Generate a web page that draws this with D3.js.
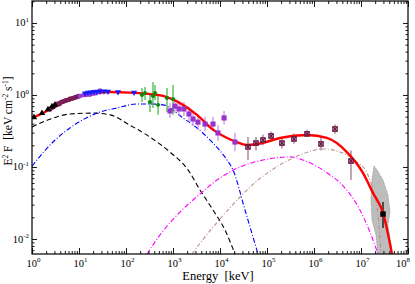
<!DOCTYPE html>
<html lang="en">
<head>
<meta charset="UTF-8">
<title>SED</title>
<script src="https://d3js.org/d3.v7.min.js" charset="utf-8"></script>
<style>
  body { margin: 0; background: white; }
  svg { display: block; background: white; font-family: 'Liberation Serif', 'DejaVu Serif', serif; }
</style>
</head>
<body>
<div id="chart"></div>
<script>
// ---- data (energy in keV, E^2F in keV cm^-2 s^-1) ----
var totalE = [1, 1.89, 3.1, 6.4, 17, 46, 122, 324, 613, 1410, 3240, 7100, 14100, 23000, 37500, 55600, 82000, 189000, 710000, 1.89e6, 5.0e6, 1.1e7, 1.8e7, 2.94e7, 4.6e7];
var totalV = [0.48, 0.58, 0.70, 0.88, 1.03, 1.10, 1.08, 1.03, 0.97, 0.77, 0.53, 0.33, 0.253, 0.222, 0.202, 0.205, 0.216, 0.253, 0.278, 0.253, 0.161, 0.083, 0.0435, 0.023, 0.006];

var syncE = [1, 2.4, 6.4, 19.9, 46, 122, 324, 864, 2090, 3750, 7100, 12800, 20800];
var syncV = [0.36, 0.46, 0.545, 0.56, 0.53, 0.38, 0.26, 0.161, 0.091, 0.048, 0.0253, 0.0133, 0.0062];

var sync2E = [1, 3.1, 6.4, 24, 64, 171, 324, 613, 1630, 3240, 7100, 14100, 18900, 34000, 64400];
var sync2V = [0.103, 0.237, 0.348, 0.56, 0.66, 0.75, 0.75, 0.73, 0.48, 0.348, 0.215, 0.125, 0.091, 0.0253, 0.0062];

var icE = [280, 529, 1410, 3750, 8630, 26700, 82000, 308000, 583000, 1.89e6, 4.57e6, 9.5e6, 1.55e7, 2.3e7];
var icV = [0.0062, 0.0114, 0.0237, 0.0422, 0.066, 0.1, 0.125, 0.138, 0.125, 0.083, 0.051, 0.0253, 0.0125, 0.0062];

var ic2E = [2540, 4800, 10000, 26700, 61300, 189000, 504000, 1.55e6, 4.14e6, 8.2e6, 1.34e7, 1.8e7, 2.3e7, 2.67e7];
var ic2V = [0.0062, 0.0107, 0.019, 0.0383, 0.064, 0.107, 0.147, 0.178, 0.156, 0.117, 0.083, 0.048, 0.0216, 0.0062];

// butterfly (outline, clockwise)
var bandE = [1.89e7, 2.19e7, 2.94e7, 3.75e7, 4.14e7, 3.75e7, 4.35e7, 4.6e7, 2.3e7, 2.08e7, 1.71e7, 1.63e7, 1.71e7];
var bandV = [0.103, 0.091, 0.066, 0.041, 0.0237, 0.0156, 0.0083, 0.006, 0.006, 0.0114, 0.0184, 0.0348, 0.066];

var triE = [1.1, 1.63, 2.19, 2.66, 3.08];
var triV = [0.49, 0.56, 0.63, 0.69, 0.73];

var maroonE = [2.41, 2.60, 2.80, 2.94, 3.16, 3.40, 3.57, 3.85, 4.14, 4.35, 4.68, 5.04, 5.29, 5.69, 6.13, 6.44, 6.92, 7.45, 8.02, 8.63, 9.29, 10.0];
var maroonV = [0.63, 0.66, 0.68, 0.69, 0.72, 0.73, 0.76, 0.75, 0.79, 0.80, 0.81, 0.83, 0.84, 0.85, 0.86, 0.88, 0.89, 0.90, 0.92, 0.93, 0.95, 0.96];

var violetE = [10.5, 12.2, 14.1, 15.5, 17.1, 18.9, 20.9, 23.0, 25.4, 28.0];
var violetV = [0.97, 0.99, 1.00, 1.02, 1.01, 1.04, 1.05, 1.06, 1.10, 1.15];

var blueE = [13.4, 15.5, 18.0, 20.9, 24.1, 28.0, 34.0, 41.4, 67.6, 148];
var blueV = [1.06, 1.08, 1.09, 1.11, 1.12, 1.12, 1.13, 1.12, 1.10, 1.08];

var greenE = [219, 254, 324, 375, 414, 480, 745, 1000];
var greenV = [1.0, 1.07, 0.80, 0.97, 1.07, 0.73, 0.91, 0.88];
var greenLo = [0.80, 0.85, 0.58, 0.66, 0.85, 0.53, 0.58, 0.53];
var greenHi = [1.25, 1.29, 1.0, 1.52, 1.38, 0.97, 1.25, 1.38];

var sqE = [864, 1100, 1340, 1710, 2190, 2670, 3400, 4800, 7100, 9060, 12200, 20800];
var sqV = [0.60, 0.70, 0.64, 0.64, 0.545, 0.464, 0.42, 0.395, 0.395, 0.297, 0.48, 0.222];
var sqLo = [0.48, 0.56, 0.51, 0.51, 0.44, 0.37, 0.33, 0.31, 0.31, 0.23, 0.39, 0.165];
var sqHi = [0.77, 0.87, 0.80, 0.80, 0.68, 0.58, 0.53, 0.50, 0.50, 0.38, 0.60, 0.30];

var starE = [39400, 58300, 82200, 122000, 208000, 375000, 710000, 1.41e6, 2.8e6, 6.12e6];
var starV = [0.19, 0.215, 0.237, 0.27, 0.215, 0.245, 0.288, 0.209, 0.337, 0.121];
var starLo = [0.125, 0.17, 0.20, 0.24, 0.18, 0.21, 0.26, 0.17, 0.29, 0.066];
var starHi = [0.26, 0.26, 0.28, 0.31, 0.26, 0.29, 0.33, 0.26, 0.39, 0.17];

var latE = [2.94e7], latV = [0.0222], latLo = [0.0142], latHi = [0.0327];

var xMajor = [1, 1e1, 1e2, 1e3, 1e4, 1e5, 1e6, 1e7, 1e8];
var yMajor = [1e-2, 1e-1, 1e0, 1e1];

// ---- layout ----
var svgWidth = 415, svgHeight = 284;
var padLeft = 32, padRight = 408, padTop = 1, padBottom = 254;

var svg = d3.select('#chart').append('svg')
    .attr('width', svgWidth).attr('height', svgHeight);

var x = d3.scaleLog().domain([1, 1e8]).range([padLeft, padRight]);
var y = d3.scaleLog().domain([0.00619, 20.2]).range([padBottom, padTop]);

function minors(lo, hi) {
    var out = [];
    for (var p = Math.floor(Math.log10(lo)); p <= Math.ceil(Math.log10(hi)); p++) {
        for (var k = 2; k <= 9; k++) {
            var v = k * Math.pow(10, p);
            if (v > lo && v < hi) out.push(v);
        }
    }
    return out;
}
var xMinor = minors(1, 1e8);
var yMinor = minors(0.00619, 20.2);

svg.append('clipPath').attr('id', 'clip')
    .append('rect').attr('x', padLeft).attr('y', padTop)
    .attr('width', padRight - padLeft).attr('height', padBottom - padTop);

var plot = svg.append('g').attr('clip-path', 'url(#clip)');

function pts(E, V) { return E.map(function(e, i) { return [e, V[i]]; }); }

// butterfly
plot.append('path')
    .attr('d', d3.line().x(function(d){return x(d[0]);}).y(function(d){return y(d[1]);})(pts(bandE, bandV)) + 'Z')
    .attr('fill', '#bdbdbd')
    .attr('stroke', '#888')
    .attr('stroke-width', 0.8)
    .attr('stroke-dasharray', '1,1');

var line = d3.line()
    .x(function(d){return x(d[0]);})
    .y(function(d){return y(d[1]);})
    .curve(d3.curveMonotoneX);

function curve(E, V, color, w, dash) {
    plot.append('path').attr('d', line(pts(E, V)))
        .attr('fill', 'none').attr('stroke', color)
        .attr('stroke-width', w).attr('stroke-dasharray', dash);
}
curve(syncE, syncV, '#000000', 1.1, '5,3');
curve(sync2E, sync2V, '#0000ff', 1.1, '5,2,1,2');
curve(icE, icV, '#ff00ff', 1.1, '5,2,1,2');
curve(ic2E, ic2V, '#bc8f8f', 1.1, '4,2,1,2');

// error bars
function errBars(E, V, Lo, Hi, color, xf) {
    var g = plot.append('g').attr('stroke', color).attr('stroke-width', 1.2);
    E.forEach(function(e, i) {
        g.append('line').attr('x1', x(e)).attr('x2', x(e))
            .attr('y1', y(Lo[i])).attr('y2', y(Hi[i]));
        if (xf) g.append('line').attr('x1', x(e / xf)).attr('x2', x(e * xf))
            .attr('y1', y(V[i])).attr('y2', y(V[i]));
    });
}
errBars(greenE, greenV, greenLo, greenHi, '#3cb43c', 1.12);
errBars(sqE, sqV, sqLo, sqHi, '#c48ce6', 0);
errBars(starE, starV, starLo, starHi, '#9a6a88', 0);
errBars(latE, latV, latLo, latHi, '#000000', 0);

// total model
plot.append('path').attr('d', line(pts(totalE, totalV)))
    .attr('fill', 'none').attr('stroke', '#ff0000').attr('stroke-width', 2.4);

// markers
function markers(E, V, type, size, color, rot) {
    plot.append('g').selectAll('path').data(pts(E, V)).enter().append('path')
        .attr('d', d3.symbol().type(type).size(size))
        .attr('transform', function(d){ return 'translate(' + x(d[0]) + ',' + y(d[1]) + ')' + (rot ? ' rotate(' + rot + ')' : ''); })
        .attr('fill', color);
}
markers(maroonE, maroonV, d3.symbolCircle, 18, '#7a1f55', 0);
markers(violetE, violetV, d3.symbolCircle, 16, '#9b3fd6', 0);
markers(blueE, blueV, d3.symbolTriangle, 16, '#1a1aff', 180);
markers(triE, triV, d3.symbolTriangle, 18, '#000000', 0);
markers(greenE, greenV, d3.symbolCircle, 12, '#0a8a0a', 0);
markers(sqE, sqV, d3.symbolSquare, 26, '#9932cc', 0);
markers(latE, latV, d3.symbolSquare, 30, '#000000', 0);

// x-in-square markers
var sg = plot.append('g').attr('stroke', '#6a1a4a').attr('stroke-width', 1.2).attr('fill', 'none');
pts(starE, starV).forEach(function(d) {
    var cx = x(d[0]), cy = y(d[1]), r = 2.2;
    sg.append('rect').attr('x', cx - r).attr('y', cy - r).attr('width', 2 * r).attr('height', 2 * r);
    sg.append('path').attr('d', 'M' + (cx - r) + ',' + (cy - r) + 'L' + (cx + r) + ',' + (cy + r) +
        'M' + (cx + r) + ',' + (cy - r) + 'L' + (cx - r) + ',' + (cy + r));
});

// ---- axes (ticks inside, on all four sides) ----
function tickAxis(axis, vals, size, transform) {
    svg.append('g').attr('transform', transform)
        .call(axis.tickValues(vals).tickSizeInner(-size).tickSizeOuter(0).tickFormat(''))
        .call(function(g){ g.select('.domain').remove(); g.selectAll('line').attr('stroke-width', 0.9); });
}
tickAxis(d3.axisBottom(x), xMajor, 6, 'translate(0,' + padBottom + ')');
tickAxis(d3.axisBottom(x), xMinor, 3, 'translate(0,' + padBottom + ')');
tickAxis(d3.axisTop(x), xMajor, 6, 'translate(0,' + padTop + ')');
tickAxis(d3.axisTop(x), xMinor, 3, 'translate(0,' + padTop + ')');
tickAxis(d3.axisLeft(y), yMajor, 5, 'translate(' + padLeft + ',0)');
tickAxis(d3.axisLeft(y), yMinor, 2.5, 'translate(' + padLeft + ',0)');
tickAxis(d3.axisRight(y), yMajor, 5, 'translate(' + padRight + ',0)');
tickAxis(d3.axisRight(y), yMinor, 2.5, 'translate(' + padRight + ',0)');

svg.append('rect').attr('x', padLeft).attr('y', padTop)
    .attr('width', padRight - padLeft).attr('height', padBottom - padTop)
    .attr('fill', 'none').attr('stroke', '#000').attr('stroke-width', 1.2);

function powLabel(sel, exp) {
    sel.append('tspan').text('10');
    sel.append('tspan').attr('dy', -4.5).attr('font-size', 7).text(exp);
}
xMajor.forEach(function(v, i) {
    var last = i === xMajor.length - 1;
    var t = svg.append('text').attr('x', last ? 410 : x(v) + 1.5).attr('y', 266.5)
        .attr('text-anchor', last ? 'end' : 'middle').attr('font-size', 10.5);
    powLabel(t, Math.round(Math.log10(v)));
});
yMajor.forEach(function(v) {
    var t = svg.append('text').attr('x', 29).attr('y', y(v) + 3.5)
        .attr('text-anchor', 'end').attr('font-size', 10.5);
    powLabel(t, Math.round(Math.log10(v)));
});

svg.append('text').attr('x', 218).attr('y', 279.5)
    .attr('text-anchor', 'middle').attr('font-size', 12.5)
    .attr('xml:space', 'preserve').text('Energy  [keV]');

var yl = svg.append('text').attr('transform', 'translate(12,121) rotate(-90)')
    .attr('text-anchor', 'middle').attr('font-size', 11.5).attr('xml:space', 'preserve');
yl.append('tspan').text('E');
yl.append('tspan').attr('dy', -4.5).attr('font-size', 7.5).text('2');
yl.append('tspan').attr('dy', 4.5).text(' F  [keV cm');
yl.append('tspan').attr('dy', -4.5).attr('font-size', 7.5).text('-2');
yl.append('tspan').attr('dy', 4.5).text(' s');
yl.append('tspan').attr('dy', -4.5).attr('font-size', 7.5).text('-1');
yl.append('tspan').attr('dy', 4.5).text(']');
</script>
</body>
</html>
